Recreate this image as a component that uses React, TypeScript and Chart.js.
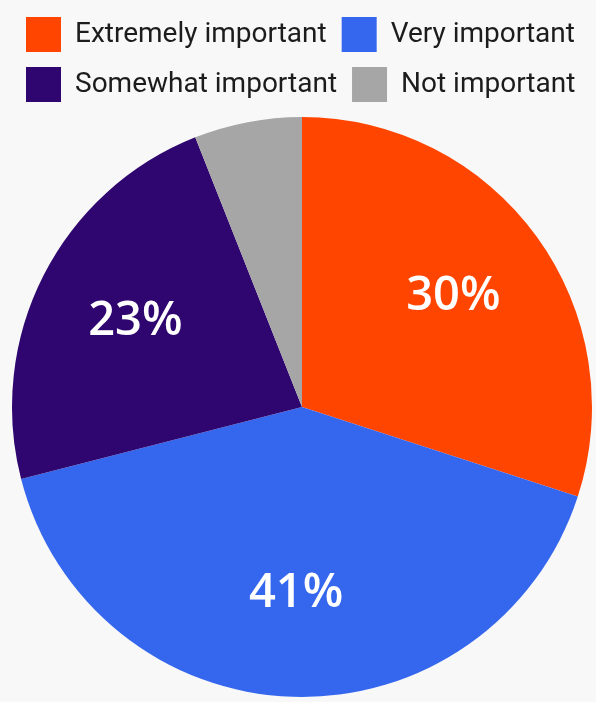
import React, { useRef, useEffect } from 'react';
import { Chart, registerables } from 'chart.js';

Chart.register(...registerables);

const categories = ['Extremely important', 'Very important', 'Somewhat important', 'Not important'];
const shares = [30, 41, 23, 6];
const sliceColors = ['#ff4500', '#3567ee', '#2f066f', '#a6a6a6'];

// white percentage text inside the bigger slices
const sliceLabels = {
  id: 'sliceLabels',
  afterDatasetsDraw(chart) {
    const { ctx } = chart;
    const meta = chart.getDatasetMeta(0);
    ctx.save();
    ctx.fillStyle = '#ffffff';
    ctx.font = '600 47px "Open Sans"';
    ctx.textAlign = 'center';
    ctx.textBaseline = 'middle';
    meta.data.forEach((arc, i) => {
      const v = shares[i];
      if (v < 10) return;
      const { x, y, startAngle, endAngle, outerRadius } = arc.getProps(
        ['x', 'y', 'startAngle', 'endAngle', 'outerRadius'],
        true
      );
      const mid = (startAngle + endAngle) / 2;
      const r = outerRadius * 0.645;
      ctx.fillText(v + '%', x + Math.cos(mid) * r, y + Math.sin(mid) * r);
    });
    ctx.restore();
  },
};

const App = () => {
  const chartRef = useRef(null);

  useEffect(() => {
    const ctx = chartRef.current.getContext('2d');
    const pie = new Chart(ctx, {
      type: 'pie',
      data: {
        labels: categories,
        datasets: [{
          data: shares,
          backgroundColor: sliceColors,
          borderWidth: 0,
        }],
      },
      options: {
        responsive: true,
        maintainAspectRatio: false,
        animation: false,
        radius: 290,
        layout: { padding: { left: 11, right: 3, top: 2, bottom: 0 } },
        plugins: {
          legend: {
            position: 'top',
            align: 'start',
            labels: {
              boxWidth: 35,
              boxHeight: 35,
              padding: 15,
              color: '#1c1c1c',
              font: { family: 'Roboto', size: 28 },
            },
          },
          tooltip: { enabled: false },
        },
      },
      plugins: [sliceLabels],
    });

    return () => pie.destroy();
  }, []);

  return (
    <div style={{ position: 'fixed', left: 0, top: 0, width: 596, height: 702, background: '#f8f8f8' }}>
      <canvas ref={chartRef}></canvas>
    </div>
  );
};

export default App;
